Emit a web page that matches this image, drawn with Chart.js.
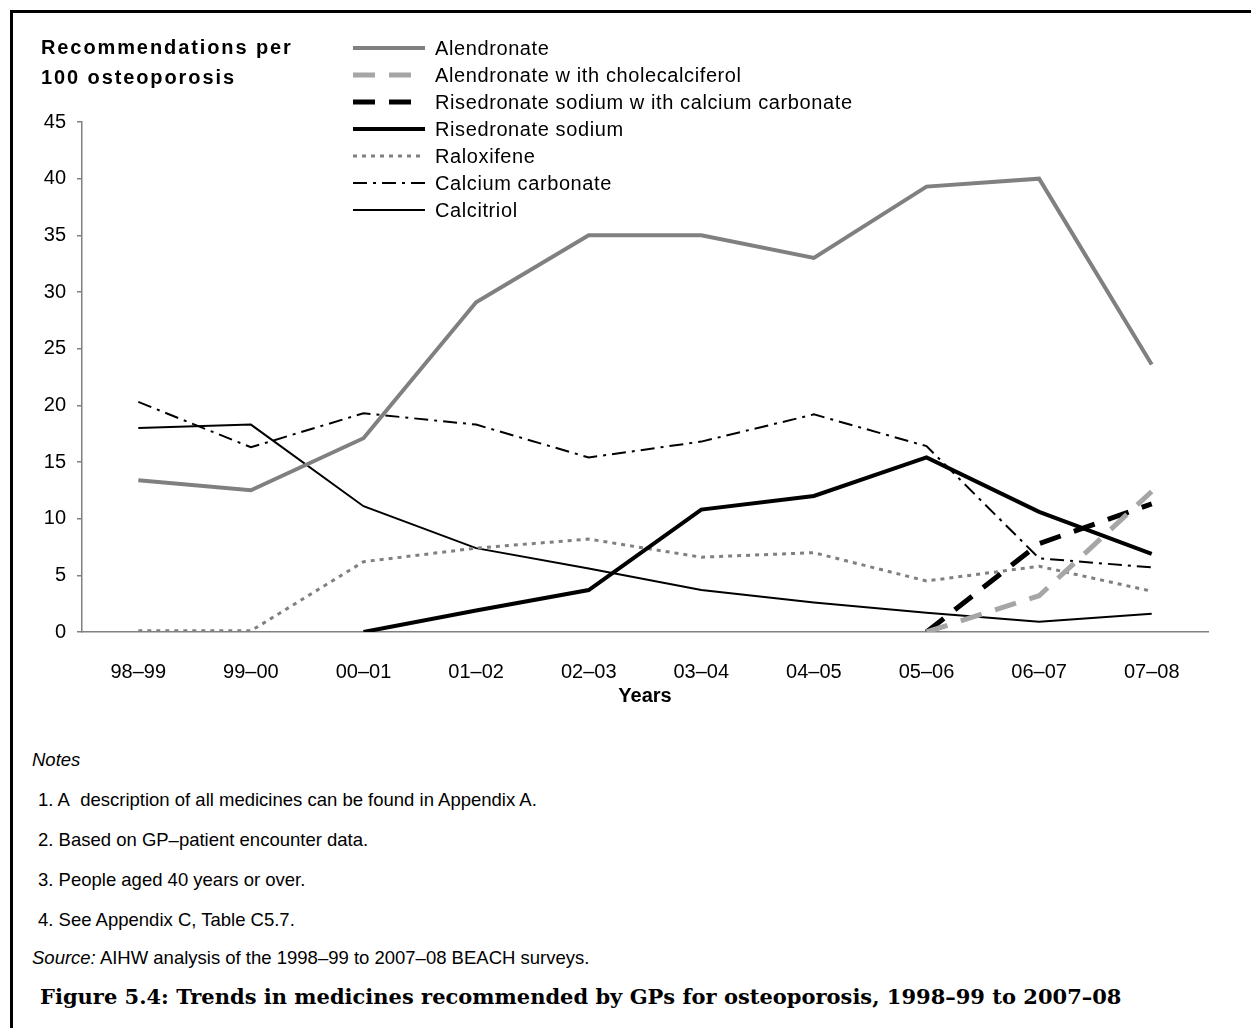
<!DOCTYPE html>
<html><head><meta charset="utf-8">
<script src="https://cdn.jsdelivr.net/npm/chart.js@4.4.1/dist/chart.umd.min.js"></script>
<style>
body{margin:0;background:#fff;width:1251px;height:1028px;overflow:hidden;position:relative;font-family:Arial,"Liberation Sans",sans-serif;color:#000;}
#frame{position:absolute;left:10px;top:10px;width:1400px;height:1200px;border-left:3px solid #000;border-top:3px solid #000;}
#wrap{position:absolute;left:0;top:0;width:1251px;height:720px;}
.ytitle{position:absolute;left:41px;top:32px;font-weight:bold;font-size:20px;letter-spacing:1.9px;line-height:30px;white-space:nowrap;}
.lg{position:absolute;left:353px;height:24px;white-space:nowrap;font-size:20px;letter-spacing:0.6px;line-height:24px;}
.lg svg{position:absolute;left:0;top:8px;}
.lg span{position:absolute;left:82px;top:0;}
.note{position:absolute;left:38px;font-size:18.5px;line-height:22px;white-space:nowrap;}
.cap{position:absolute;left:40px;top:984px;font-family:"DejaVu Serif","Liberation Serif",serif;font-weight:bold;font-size:21px;white-space:nowrap;}
</style></head><body>
<div id="frame"></div>
<div id="wrap"><canvas id="c" width="1251" height="720"></canvas></div>
<div class="ytitle">Recommendations per<br>100 osteoporosis</div>
<div id="legend"></div>
<div class="note" style="top:749px;font-style:italic;left:32px;">Notes</div>
<div class="note" style="top:789px;">1. A&nbsp; description of all medicines can be found in Appendix A.</div>
<div class="note" style="top:829px;">2. Based on GP–patient encounter data.</div>
<div class="note" style="top:869px;">3. People aged 40 years or over.</div>
<div class="note" style="top:909px;">4. See Appendix C, Table C5.7.</div>
<div class="note" style="top:947px;left:32px;"><i>Source:</i> AIHW analysis of the 1998–99 to 2007–08 BEACH surveys.</div>
<div class="cap">Figure 5.4: Trends in medicines recommended by GPs for osteoporosis, 1998–99 to 2007–08</div>
<script>
const categories = ['98–99','99–00','00–01','01–02','02–03','03–04','04–05','05–06','06–07','07–08'];
const alendronate = [13.4, 12.5, 17.1, 29.1, 35.0, 35.0, 33.0, 39.3, 40.0, 23.6];
const alendronateChol = [null, null, null, null, null, null, null, 0, 3.2, 12.4];
const risedronateCaCO3 = [null, null, null, null, null, null, null, 0, 7.8, 11.3];
const risedronate = [null, null, 0, 1.9, 3.7, 10.8, 12.0, 15.4, 10.6, 6.9];
const raloxifene = [0.1, 0.1, 6.2, 7.4, 8.2, 6.6, 7.0, 4.5, 5.8, 3.6];
const calciumCarbonate = [20.3, 16.3, 19.3, 18.3, 15.4, 16.8, 19.2, 16.4, 6.5, 5.7];
const calcitriol = [18.0, 18.3, 11.1, 7.4, 5.6, 3.7, 2.6, 1.7, 0.9, 1.6];
const yTicks = [0,5,10,15,20,25,30,35,40,45];

const series = [
  {label:'Alendronate', data:alendronate, color:'#808080', width:4, dash:[]},
  {label:'Alendronate w ith cholecalciferol', data:alendronateChol, color:'#A6A6A6', width:5, dash:[22,14]},
  {label:'Risedronate sodium w ith calcium carbonate', data:risedronateCaCO3, color:'#000000', width:5, dash:[22,14]},
  {label:'Risedronate sodium', data:risedronate, color:'#000000', width:4, dash:[]},
  {label:'Raloxifene', data:raloxifene, color:'#808080', width:3, dash:[4,5]},
  {label:'Calcium carbonate', data:calciumCarbonate, color:'#000000', width:2, dash:[14,6,3,6]},
  {label:'Calcitriol', data:calcitriol, color:'#000000', width:2, dash:[]}
];

// HTML legend
const lg = document.getElementById('legend');
series.forEach((s,i)=>{
  const d = document.createElement('div');
  d.className='lg';
  d.style.top = (36 + i*27) + 'px';
  d.innerHTML = '<svg width="72" height="8"><line x1="0" y1="4" x2="72" y2="4" stroke="'+s.color+'" stroke-width="'+s.width+'" stroke-dasharray="'+(s.dash.length?s.dash.join(' '):'none')+'"/></svg><span>'+s.label+'</span>';
  lg.appendChild(d);
});

new Chart(document.getElementById('c'), {
  type:'line',
  data:{labels:categories, datasets:series.map(s=>({
    label:s.label, data:s.data, borderColor:s.color, backgroundColor:s.color,
    borderWidth:s.width, borderDash:s.dash, pointRadius:0, tension:0, fill:false,
    borderCapStyle:'butt', borderJoinStyle:'miter', spanGaps:false
  }))},
  options:{
    responsive:false, animation:false, devicePixelRatio:1,
    layout:{padding:{left:0,right:43,top:122,bottom:0}},
    plugins:{legend:{display:false}, tooltip:{enabled:false}},
    scales:{
      x:{type:'category', offset:true,
        grid:{display:false},
        border:{color:'#808080', width:1.5},
        ticks:{color:'#000', font:{family:'Arial', size:20}, padding:20, maxRotation:0, autoSkip:false},
        title:{display:true, text:'Years', color:'#000', font:{family:'Arial', size:20, weight:'bold'}, padding:{top:0,bottom:12}},
        afterFit(s){s.height=88;}
      },
      y:{min:0, max:45,
        afterBuildTicks(s){s.ticks = yTicks.map(v=>({value:v}));},
        ticks:{color:'#000', font:{family:'Arial', size:20}, padding:11},
        grid:{drawOnChartArea:false, tickLength:5, color:'#808080', lineWidth:1.5},
        border:{color:'#808080', width:1.5},
        afterFit(s){s.width=82;}
      }
    }
  }
});
</script>
</body></html>
